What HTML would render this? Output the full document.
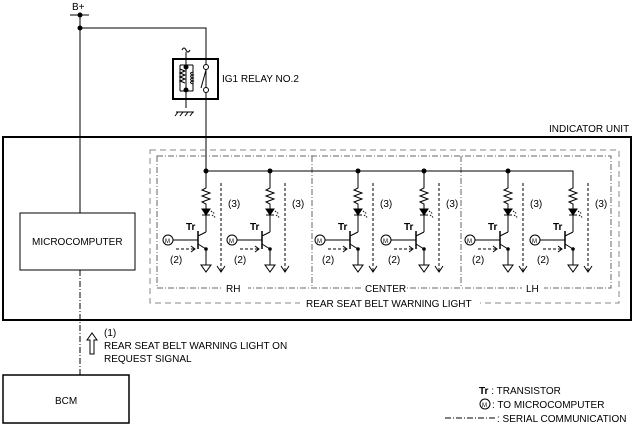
<!DOCTYPE html>
<html><head><style>
body{margin:0;background:#fff;}
svg{display:block;font-family:"Liberation Sans",sans-serif;}
</style></head><body>
<svg width="634" height="428" viewBox="0 0 634 428" xmlns="http://www.w3.org/2000/svg">
<defs>
<g id="ch" stroke="#000" fill="none" stroke-width="1">
  <path d="M0,171V188L-4,190L4,193L-4,196L4,199L-4,202L0,204V209"/>
  <path d="M-4,209H4L0,215Z" fill="#000"/>
  <path d="M-4,215H4M0,215V232"/>
  <path d="M5,211l4,3M6,215l4,3" stroke-dasharray="1.5,1"/>
  <path d="M-8,231V249" stroke-width="1.5"/>
  <path d="M-8,236L0,232M-8,244L0,249V265"/>
  <circle cx="0" cy="249" r="1.3" fill="#000"/>
  <path d="M-5,265H5L0,272Z"/>
  <circle cx="-38" cy="240" r="5"/>
  <path d="M-33,240H-8"/>
  <path d="M-30,249H-12" stroke-dasharray="3,2"/>
  <path d="M-15,246L-11,249L-15,252"/>
  <path d="M15,183V272" stroke-dasharray="3,2"/>
  <path d="M11,266L15,272L19,266"/>
</g>
</defs>
<g font-size="10" fill="#000">
<text x="72" y="10">B+</text>
</g>
<g stroke="#000" fill="none">
<path d="M70,15H89"/>
<path d="M80,15V213"/>
<path d="M80,28H206V172"/>
<rect x="173" y="59" width="45" height="40" stroke-width="2"/>
<path d="M186,52V108M176,112H194M178,112l-3,4M183,112l-3,4M188,112l-3,4M193,112l-3,4"/>
<path d="M182,50q2,-4 4,0q2,4 4,0"/>
<path d="M180,65V91M180,69l5,2l-5,2l5,2l-5,2l5,2l-5,2l5,2M193,72q-5,1.5 0,3q-5,1.5 0,3q-5,1.5 0,3q-5,1.5 0,3M193,65V91M180,65H193M180,91H193"/>
<circle cx="206" cy="67" r="2.5" fill="#fff"/>
<circle cx="206" cy="90" r="2.5" fill="#fff"/>
<path d="M206,70L201,88"/>
<rect x="3" y="137" width="628" height="183" stroke-width="2"/>
<rect x="150" y="150" width="469" height="153" stroke="#888" stroke-dasharray="6,4"/>
<path d="M157,156H611V288H157Z M312,156V288 M461,156V288" stroke="#666" stroke-dasharray="6,2,1,2"/>
<path d="M206,171H573V188"/>
<rect x="20" y="213" width="115" height="57"/>
<path d="M80,270V375" stroke-dasharray="6,2,1,2"/>
<rect x="3" y="375" width="126" height="48" stroke-width="1.5"/>
<path d="M90,354V340H87L92,333L97,340H94V354Z"/>
<path d="M445,418H495" stroke-dasharray="6,2,1,2"/>
<circle cx="485" cy="404" r="5"/>
</g>
<g fill="#000">
<circle cx="80" cy="15" r="2.5"/><circle cx="80" cy="28" r="2.5"/>
<circle cx="186" cy="67" r="2.5"/><circle cx="186" cy="90" r="2.5"/>
<circle cx="206" cy="171" r="2.5"/><circle cx="270" cy="171" r="2.5"/>
<circle cx="358" cy="171" r="2.5"/><circle cx="424" cy="171" r="2.5"/>
<circle cx="508" cy="171" r="2.5"/>
</g>
<use href="#ch" x="206"/><use href="#ch" x="270"/>
<use href="#ch" x="358"/><use href="#ch" x="424"/>
<use href="#ch" x="508"/><use href="#ch" x="573"/>
<g font-size="10" fill="#000">
<text x="222" y="82">IG1 RELAY NO.2</text>
<text x="549" y="132">INDICATOR UNIT</text>
<text x="32" y="245">MICROCOMPUTER</text>
<rect x="222" y="282" width="26" height="12" fill="#fff"/>
<text x="226" y="292">RH</text>
<rect x="362" y="282" width="42" height="12" fill="#fff"/>
<text x="365" y="292">CENTER</text>
<rect x="522" y="282" width="22" height="12" fill="#fff"/>
<text x="526" y="292">LH</text>
<rect x="300" y="297" width="180" height="12" fill="#fff"/>
<text x="306" y="307">REAR SEAT BELT WARNING LIGHT</text>
<text x="104" y="336">(1)</text>
<text x="104" y="349">REAR SEAT BELT WARNING LIGHT ON</text>
<text x="104" y="362">REQUEST SIGNAL</text>
<text x="55" y="404">BCM</text>
<text x="479" y="394"><tspan font-weight="bold">Tr</tspan> : TRANSISTOR</text>
<text x="482" y="407" font-size="6">M</text>
<text x="492" y="408">: TO MICROCOMPUTER</text>
<text x="497" y="422">: SERIAL COMMUNICATION</text>
</g>
<g font-size="10" fill="#000">
<g transform="translate(206,0)"><text x="-20" y="230" font-weight="bold">Tr</text><text x="22" y="207">(3)</text><text x="-36" y="263">(2)</text><text x="-41" y="243" font-size="6">M</text></g>
<g transform="translate(270,0)"><text x="-20" y="230" font-weight="bold">Tr</text><text x="22" y="207">(3)</text><text x="-36" y="263">(2)</text><text x="-41" y="243" font-size="6">M</text></g>
<g transform="translate(358,0)"><text x="-20" y="230" font-weight="bold">Tr</text><text x="22" y="207">(3)</text><text x="-36" y="263">(2)</text><text x="-41" y="243" font-size="6">M</text></g>
<g transform="translate(424,0)"><text x="-20" y="230" font-weight="bold">Tr</text><text x="22" y="207">(3)</text><text x="-36" y="263">(2)</text><text x="-41" y="243" font-size="6">M</text></g>
<g transform="translate(508,0)"><text x="-20" y="230" font-weight="bold">Tr</text><text x="22" y="207">(3)</text><text x="-36" y="263">(2)</text><text x="-41" y="243" font-size="6">M</text></g>
<g transform="translate(573,0)"><text x="-20" y="230" font-weight="bold">Tr</text><text x="22" y="207">(3)</text><text x="-36" y="263">(2)</text><text x="-41" y="243" font-size="6">M</text></g>
</g>
</svg>
</body></html>
